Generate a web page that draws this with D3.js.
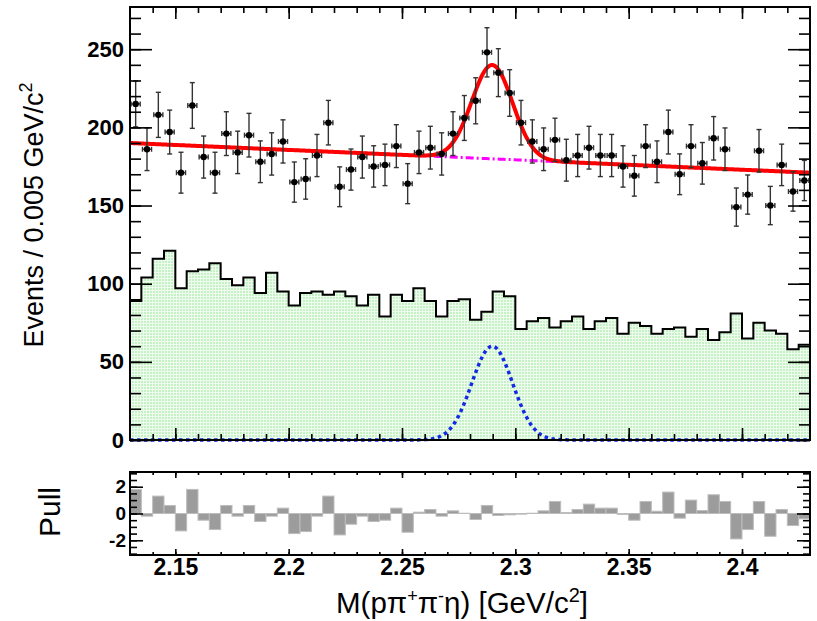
<!DOCTYPE html>
<html>
<head>
<meta charset="utf-8">
<script src="https://cdn.jsdelivr.net/npm/d3@7"></script>
<style>
  body { margin: 0; background: #fff; }
  text { font-family: "Liberation Sans", Arial, Helvetica, sans-serif; }
</style>
</head>
<body>
<svg id="chart" width="817" height="621"></svg>
<script>
// binning
var massMin = 2.13, massMax = 2.43, binWidth = 0.005;

// data points (events per bin)
var dataCounts = [215, 186, 208, 197, 171, 214, 181, 171, 196, 184,
                  195, 178, 183, 191, 165, 167, 182, 203, 162, 173,
                  181, 175, 176, 188, 164, 184, 187, 183, 196, 206,
                  217, 248, 235, 222, 203, 191, 186, 192, 179, 182,
                  187, 182, 182, 175, 169, 188, 178, 197, 170, 188,
                  177, 193, 186, 149, 157, 185, 150, 176, 159, 166];

// green histogram (sideband / background sample)
var bkgHist = [89, 104, 116, 121, 97, 108, 109, 113, 103, 99,
               104, 94, 107, 95, 86, 94, 95, 93, 95, 92,
               86, 93, 79, 93, 89, 97, 89, 79, 89, 90,
               77, 82, 95, 92, 71, 76, 78, 72, 76, 79,
               71, 76, 78, 68, 75, 73, 68, 71, 72, 66,
               71, 64, 69, 81, 65, 75, 70, 68, 58, 61];

// pull per bin
var pulls = [1.8, -0.2, 1.3, 0.6, -1.3, 1.8, -0.5, -1.2, 0.6, -0.2,
             0.6, -0.6, -0.2, 0.4, -1.5, -1.35, -0.2, 1.3, -1.6, -0.8,
             -0.2, -0.6, -0.5, 0.4, -1.4, 0.1, 0.3, -0.2, 0.2, 0.02,
             -0.45, 0.6, -0.15, -0.1, -0.05, 0.02, 0.2, 0.9, 0.07, 0.3,
             0.7, 0.4, 0.4, -0.07, -0.5, 0.9, 0.17, 1.6, -0.35, 1.0,
             0.22, 1.4, 0.9, -1.9, -1.2, 0.9, -1.7, 0.3, -0.9, -0.4];

var xTickLabels = [2.15, 2.2, 2.25, 2.3, 2.35, 2.4];
var yTickLabels = [0, 50, 100, 150, 200, 250];
var pullTickLabels = [-2, 0, 2];

// fit result: linear background + gaussian signal
var bgAtMin = 190, bgAtMax = 171;
var sigMean = 2.2898, sigSigma = 0.009, sigPeak = 60;

var svg = d3.select("#chart");

var x = d3.scaleLinear().domain([massMin, massMax]).range([130, 810]);
var y = d3.scaleLinear().domain([0, 277]).range([440, 7]);
var yp = d3.scaleLinear().domain([-3.1, 3.1]).range([555, 472]);

var edges = dataCounts.map(function (d, i) { return massMin + i * binWidth; });
var centers = edges.map(function (e) { return e + binWidth / 2; });

function bg(m) { return bgAtMin + (bgAtMax - bgAtMin) * (m - massMin) / (massMax - massMin); }
function sig(m) { return sigPeak * Math.exp(-0.5 * Math.pow((m - sigMean) / sigSigma, 2)); }

// dotted green fill pattern
var defs = svg.append("defs");
var pat = defs.append("pattern")
    .attr("id", "greenDots")
    .attr("patternUnits", "userSpaceOnUse")
    .attr("width", 3).attr("height", 3);
pat.append("rect").attr("width", 3).attr("height", 3).attr("fill", "#eefbee");
pat.append("rect").attr("width", 2).attr("height", 2).attr("fill", "#c4f2c4");

// ---------- main panel ----------
var histPts = bkgHist.map(function (v, i) { return [edges[i], v]; });
histPts.push([massMax, bkgHist[bkgHist.length - 1]]);

svg.append("path")
    .datum(histPts)
    .attr("fill", "url(#greenDots)")
    .attr("d", d3.area().curve(d3.curveStepAfter)
        .x(function (d) { return x(d[0]); })
        .y0(y(0))
        .y1(function (d) { return y(d[1]); }));

svg.append("path")
    .datum(histPts)
    .attr("fill", "none")
    .attr("stroke", "#000")
    .attr("stroke-width", 2)
    .attr("d", d3.line().curve(d3.curveStepAfter)
        .x(function (d) { return x(d[0]); })
        .y(function (d) { return y(d[1]); }));

var fitX = d3.range(massMin, massMax + 0.00001, 0.0005);

// signal component
svg.append("path")
    .datum(fitX)
    .attr("fill", "none")
    .attr("stroke", "#1428e6")
    .attr("stroke-width", 3.5)
    .attr("stroke-dasharray", "3.5,3.5")
    .attr("d", d3.line().x(function (m) { return x(m); }).y(function (m) { return y(sig(m)); }));

// background component
svg.append("path")
    .datum(fitX)
    .attr("fill", "none")
    .attr("stroke", "#ff00ff")
    .attr("stroke-width", 3)
    .attr("stroke-dasharray", "8,3,2,3")
    .attr("d", d3.line().x(function (m) { return x(m); }).y(function (m) { return y(bg(m)); }));

// total fit
svg.append("path")
    .datum(fitX)
    .attr("fill", "none")
    .attr("stroke", "#ff0000")
    .attr("stroke-width", 4)
    .attr("d", d3.line().x(function (m) { return x(m); }).y(function (m) { return y(bg(m) + sig(m)); }));

// data points with errors
var pts = svg.append("g").selectAll("g")
    .data(dataCounts)
    .enter().append("g");

pts.append("line")
    .attr("x1", function (d, i) { return x(centers[i]); })
    .attr("x2", function (d, i) { return x(centers[i]); })
    .attr("y1", function (d) { return y(d + Math.sqrt(d)); })
    .attr("y2", function (d) { return y(d - Math.sqrt(d)); })
    .attr("stroke", "#333").attr("stroke-width", 1.4);
pts.append("line")
    .attr("x1", function (d, i) { return x(centers[i] - 0.002); })
    .attr("x2", function (d, i) { return x(centers[i] + 0.002); })
    .attr("y1", function (d) { return y(d); })
    .attr("y2", function (d) { return y(d); })
    .attr("stroke", "#333").attr("stroke-width", 1.4);
[1, -1].forEach(function (s) {
    pts.append("line")
        .attr("x1", function (d, i) { return x(centers[i]) - 2.5; })
        .attr("x2", function (d, i) { return x(centers[i]) + 2.5; })
        .attr("y1", function (d) { return y(d + s * Math.sqrt(d)); })
        .attr("y2", function (d) { return y(d + s * Math.sqrt(d)); })
        .attr("stroke", "#333").attr("stroke-width", 1.4);
    pts.append("line")
        .attr("x1", function (d, i) { return x(centers[i] + s * 0.002); })
        .attr("x2", function (d, i) { return x(centers[i] + s * 0.002); })
        .attr("y1", function (d) { return y(d) - 2.5; })
        .attr("y2", function (d) { return y(d) + 2.5; })
        .attr("stroke", "#333").attr("stroke-width", 1.4);
});
pts.append("circle")
    .attr("cx", function (d, i) { return x(centers[i]); })
    .attr("cy", function (d) { return y(d); })
    .attr("r", 3.2)
    .attr("fill", "#000");

// ---------- pull panel ----------
svg.append("g").selectAll("rect")
    .data(pulls)
    .enter().append("rect")
    .attr("x", function (d, i) { return x(edges[i]); })
    .attr("width", x(massMin + binWidth) - x(massMin))
    .attr("y", function (d) { return yp(Math.max(d, 0)); })
    .attr("height", function (d) { return Math.abs(yp(d) - yp(0)); })
    .attr("fill", "#9c9c9c")
    .attr("stroke", "#bdbdbd")
    .attr("stroke-width", 1);

// ---------- axes ----------
var minorX = d3.range(2.14, 2.425, 0.01);
var minorY = d3.range(0, 277, 10);
var minorP = d3.range(-3, 3.01, 0.5);

function ticks(axis, transform) {
    var g = svg.append("g").attr("transform", transform).call(axis);
    g.select(".domain").remove();
    g.selectAll("line").attr("stroke", "#000").attr("stroke-width", 1.6);
    return g;
}
function noLab(d) { return ""; }
function plain(d) { return String(d); }

// main panel ticks
ticks(d3.axisBottom(x).tickValues(minorX).tickSize(-6).tickFormat(noLab), "translate(0,440)");
ticks(d3.axisBottom(x).tickValues(xTickLabels).tickSize(-12).tickFormat(noLab), "translate(0,440)");
ticks(d3.axisTop(x).tickValues(minorX).tickSize(-6).tickFormat(noLab), "translate(0,7)");
ticks(d3.axisTop(x).tickValues(xTickLabels).tickSize(-12).tickFormat(noLab), "translate(0,7)");
ticks(d3.axisLeft(y).tickValues(minorY).tickSize(-11).tickFormat(noLab), "translate(130,0)");
ticks(d3.axisRight(y).tickValues(minorY).tickSize(-11).tickFormat(noLab), "translate(810,0)");
ticks(d3.axisRight(y).tickValues(yTickLabels).tickSize(-22).tickFormat(noLab), "translate(810,0)");
var yl = ticks(d3.axisLeft(y).tickValues(yTickLabels).tickSize(-22).tickPadding(6).tickFormat(plain), "translate(130,0)");
yl.selectAll("text")
    .attr("fill", "#000")
    .style("font-size", "22px").style("font-weight", "bold");

// pull panel ticks
ticks(d3.axisTop(x).tickValues(minorX).tickSize(-3).tickFormat(noLab), "translate(0,472)");
ticks(d3.axisTop(x).tickValues(xTickLabels).tickSize(-6).tickFormat(noLab), "translate(0,472)");
ticks(d3.axisBottom(x).tickValues(minorX).tickSize(-3).tickFormat(noLab), "translate(0,555)");
var xl = ticks(d3.axisBottom(x).tickValues(xTickLabels).tickSize(-6).tickPadding(4).tickFormat(plain), "translate(0,555)");
xl.selectAll("text")
    .attr("fill", "#000")
    .style("font-size", "23px").style("font-weight", "bold");
ticks(d3.axisLeft(yp).tickValues(minorP).tickSize(-7).tickFormat(noLab), "translate(130,0)");
ticks(d3.axisRight(yp).tickValues(minorP).tickSize(-7).tickFormat(noLab), "translate(810,0)");
ticks(d3.axisRight(yp).tickValues(pullTickLabels).tickSize(-13).tickFormat(noLab), "translate(810,0)");
var pl = ticks(d3.axisLeft(yp).tickValues(pullTickLabels).tickSize(-13).tickPadding(4).tickFormat(plain), "translate(130,0)");
pl.selectAll("text")
    .attr("fill", "#000")
    .style("font-size", "19px").style("font-weight", "bold");

// frames
svg.append("rect").attr("x", 130).attr("y", 7).attr("width", 680).attr("height", 433)
    .attr("fill", "none").attr("stroke", "#000").attr("stroke-width", 2);
svg.append("rect").attr("x", 130).attr("y", 472).attr("width", 680).attr("height", 83)
    .attr("fill", "none").attr("stroke", "#000").attr("stroke-width", 2);

// ---------- titles ----------
var yt = svg.append("text")
    .attr("transform", "translate(43,215) rotate(-90)")
    .attr("text-anchor", "middle")
    .style("font-size", "27px");
yt.append("tspan").text("Events / 0.005 GeV/c");
yt.append("tspan").attr("dy", -11).style("font-size", "18px").text("2");

svg.append("text")
    .attr("transform", "translate(60,512) rotate(-90)")
    .attr("text-anchor", "middle")
    .style("font-size", "30px")
    .text("Pull");

var xt = svg.append("text")
    .attr("x", 462).attr("y", 613)
    .attr("text-anchor", "middle")
    .style("font-size", "29.5px");
xt.append("tspan").text("M(p\u03c0");
xt.append("tspan").attr("dy", -11).style("font-size", "18px").text("+");
xt.append("tspan").attr("dy", 11).text("\u03c0");
xt.append("tspan").attr("dy", -11).style("font-size", "18px").text("-");
xt.append("tspan").attr("dy", 11).text("\u03b7) [GeV/c");
xt.append("tspan").attr("dy", -11).style("font-size", "20px").text("2");
xt.append("tspan").attr("dy", 11).text("]");
</script>
</body>
</html>
